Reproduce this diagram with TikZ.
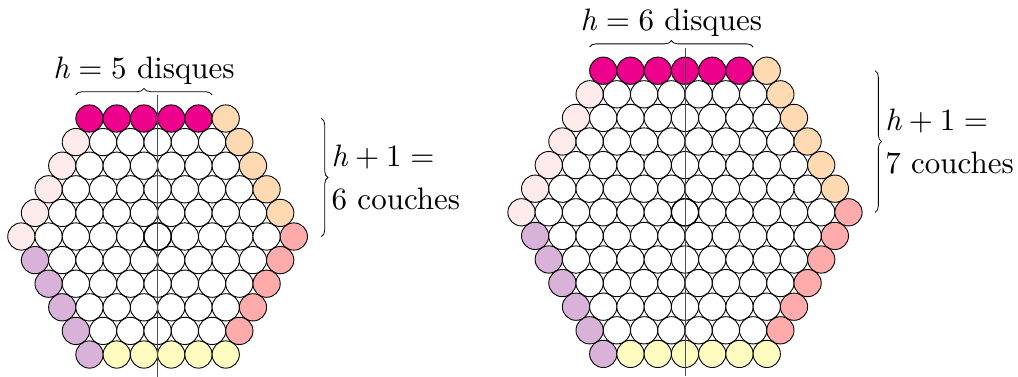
\documentclass[tikz,border=0pt]{standalone}
\usepackage{fontspec}
\setmainfont{lmroman10-regular.otf}[ItalicFont=lmroman10-italic.otf]
\usetikzlibrary{decorations.pathreplacing,calc}
\definecolor{mag}{RGB}{236,0,140}
\colorlet{peach}{orange!30}
\colorlet{salm}{red!33}
\colorlet{lilac}{violet!30}
\colorlet{yel}{yellow!25}
\colorlet{pinkl}{red!8}
\newcommand\hvar{\textit{h}}
\newcommand\relsp{\kern0.2778em}
\newcommand\binsp{\kern0.2222em}
\newcommand\hexgrid[4]{% #1 prefix, #2 side n, #3 cx, #4 cy
  \pgfmathtruncatemacro\nm{#2-1}
  \pgfmathtruncatemacro\nn{2*#2-2}
  \foreach \rr in {0,...,\nn} {
    \pgfmathtruncatemacro\mm{2*\nm-abs(\rr-\nm)}
    \foreach \ii in {0,...,\mm} {
      \def\col{white}
      \ifnum\rr=0
        \ifnum\ii<\mm \def\col{mag}\else\def\col{peach}\fi
      \else\ifnum\rr=\nn
        \ifnum\ii=0 \def\col{lilac}\else\def\col{yel}\fi
      \else
        \ifnum\ii=0 \ifnum\rr>\nm \def\col{lilac}\else\def\col{pinkl}\fi\fi
        \ifnum\ii=\mm \ifnum\rr<\nm \def\col{peach}\else\def\col{salm}\fi\fi
      \fi\fi
      \node[disc,fill=\col] (#1r\rr c\ii) at ({#3+(\ii-\mm/2)*27.25},{#4+(\rr-\nm)*23.6}) {};
    }
  }
}
\begin{document}
\begin{tikzpicture}[x=1pt,y=-1pt,
  disc/.style={circle,draw=black,line width=0.9pt,minimum size=27.25pt,inner sep=0pt,outer sep=0pt},
  bigtxt/.style={font=\fontsize{31}{43}\selectfont,inner sep=0pt},
  bracedeco/.style={decorate,decoration={brace,amplitude=6.5pt},line width=0.8pt},
  axisline/.style={line width=1pt,black!70}]
\useasboundingbox (0,0) rectangle (1018,376);
% left hexagon (h = 5)
\hexgrid{L}{6}{157.6}{236.5}
\draw[line width=1.3pt] (Lr5c5) circle (13.6);
% right hexagon (h = 6)
\hexgrid{R}{7}{685}{212.3}
\draw[line width=1.3pt] (Rr6c6) circle (13.6);
% axes
\draw[axisline] ($(Lr5c5)+(0,-141.5)$) -- ($(Lr5c5)+(0,141.5)$);
\draw[axisline] ($(Rr6c6)+(0,-164)$) -- ($(Rr6c6)+(0,164)$);
% top braces
\coordinate (La) at ($(Lr0c0.west)+(0,-23.6)$);
\coordinate (Lb) at ($(Lr0c4.east)+(0,-23.6)$);
\draw[bracedeco] (La) -- (Lb);
\node[bigtxt,anchor=base] (Ltop) at ($(La)!0.5!(Lb)+(0,-16.5)$) {\hvar\relsp=\relsp5 disques};
\coordinate (Ra) at ($(Rr0c0.west)+(0,-23.6)$);
\coordinate (Rb) at ($(Rr0c5.east)+(0,-23.6)$);
\draw[bracedeco] (Ra) -- (Rb);
\node[bigtxt,anchor=base] (Rtop) at ($(Ra)!0.5!(Rb)+(0,-16.5)$) {\hvar\relsp=\relsp6 disques};
% side braces
\coordinate (Lbt) at ($(Lr5c10.east)+(14,0)$);
\draw[bracedeco] (Lbt |- Lr0c0) -- (Lbt);
\node[bigtxt,anchor=west,align=left] (Lside) at ($(Lbt)!0.5!(Lbt |- Lr0c0)+(10,0)$) {\hvar\binsp+\binsp1\relsp=\\6 couches};
\coordinate (Rbt) at ($(Rr6c12.east)+(13,0)$);
\draw[bracedeco] (Rbt |- Rr0c0) -- (Rbt);
\node[bigtxt,anchor=west,align=left] (Rside) at ($(Rbt)!0.5!(Rbt |- Rr0c0)+(10,0)$) {\hvar\binsp+\binsp1\relsp=\\7 couches};
\end{tikzpicture}
\end{document}
